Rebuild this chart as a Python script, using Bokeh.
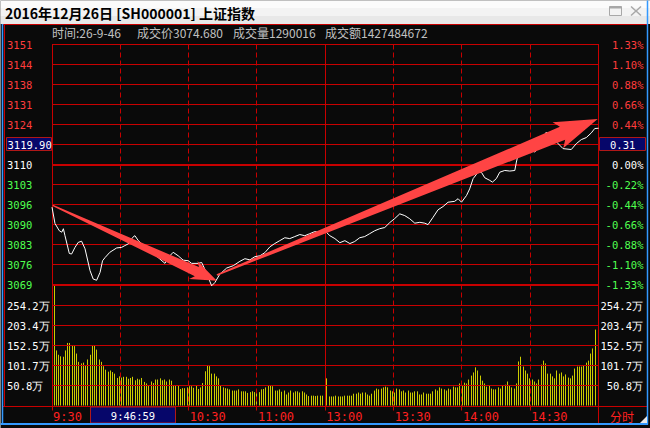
import math
from bokeh.plotting import figure
from bokeh.models import Range1d
from bokeh.core.properties import value
from bokeh.embed import file_html
from bokeh.resources import INLINE

# ----------------------------- data -----------------------------
TITLE = "2016年12月26日 [SH000001] 上证指数"
INFO_TEXTS = ["时间:26-9-46", "成交价3074.680", "成交量1290016", "成交额1427484672"]

PRE_CLOSE = 3110.15
MAX_PCT = 0.01325

PRICE_STEPS = [6, 5, 4, 3, 2, 0, -1, -2, -3, -4, -5, -6]
PRICE_LABELS = ["3151", "3144", "3138", "3131", "3124", "3110",
                "3103", "3096", "3090", "3083", "3076", "3069"]
PCT_LABELS = ["1.33%", "1.10%", "0.88%", "0.66%", "0.44%", "0.00%",
              "-0.22%", "-0.44%", "-0.66%", "-0.88%", "-1.10%", "-1.33%"]

CURSOR_STEP = 1
CURSOR_PRICE_LABEL = "3119.90"
CURSOR_PCT_LABEL = "0.31"
CURSOR_TIME_LABEL = "9:46:59"

VOL_MAX = 305.04
VOL_STEPS = [5, 4, 3, 2, 1]
VOL_LABELS = ["254.2万", "203.4万", "152.5万", "101.7万", "50.8万"]

TIME_DASHED = [30, 60, 90, 150, 180, 210]
TIME_SOLID = [120]
TIME_TICKS = [0, 30, 60, 90, 120, 150, 180, 210]
TIME_LABEL_MIN = [0, 60, 90, 120, 150, 180, 210]
TIME_LABELS = ["9:30", "10:30", "11:00", "13:00", "13:30", "14:00", "14:30"]
PERIOD_LABEL = "分时"

# minutes after 9:30 (trading minutes) and index price
PRICE_T = [0, 1.3, 3.2, 4.3, 5.0, 5.7, 7.6, 8.6, 10.1, 11.5,
           13.0, 14.5, 16.7, 18.1, 19.6, 21.1, 22.2, 23.3, 25.4, 28.4,
           30.6, 32.0, 33.5, 35.4, 36.4, 37.9, 40.8, 43.9, 46.6, 49.6,
           51.0, 53.2, 55.4, 57.6, 59.8, 61.3, 64.2, 65.7, 67.1, 70.1,
           71.5, 73.7, 76.7, 79.6, 82.5, 84.7, 86.9, 89.1, 91.3, 93.5,
           95.7, 97.8, 100.0, 102.2, 104.4, 106.6, 108.8, 111.0, 113.2, 115.4,
           117.6, 119.8, 122.0, 124.2, 126.4, 128.6, 130.8, 132.9, 135.1, 137.3,
           139.5, 141.7, 143.9, 146.1, 148.3, 150.5, 152.7, 154.9, 157.1, 159.3,
           161.5, 163.7, 165.1, 167.3, 169.5, 171.7, 173.9, 176.8, 178.3, 179.8,
           182.0, 183.4, 184.9, 187.1, 188.6, 190.0, 192.2, 193.4, 195.1, 196.6,
           198.8, 201.0, 203.2, 203.9, 204.6, 206.1, 207.5, 209.0, 210.5, 211.9,
           213.4, 215.6, 217.1, 218.5, 221.5, 224.4, 228.0, 230.2, 232.4, 234.6,
           236.8, 238.3, 240.0]
PRICE = [3095.5, 3089.9, 3087.4, 3086.9, 3088.1, 3085.7, 3079.6, 3079.4, 3081.7, 3083.4,
         3083.8, 3081.2, 3073.7, 3070.8, 3070.4, 3073.1, 3077.1, 3078.2, 3080.0, 3081.5,
         3081.7, 3082.3, 3082.9, 3085.1, 3085.7, 3084.0, 3081.9, 3079.9, 3078.2, 3076.2,
         3078.2, 3080.0, 3078.8, 3077.3, 3077.1, 3076.2, 3076.2, 3076.5, 3074.2, 3068.5,
         3069.6, 3072.5, 3074.6, 3075.4, 3076.9, 3077.8, 3077.4, 3078.5, 3078.8, 3079.9,
         3081.9, 3083.0, 3084.0, 3085.0, 3084.7, 3085.4, 3086.1, 3085.7, 3086.4, 3087.1,
         3086.8, 3087.4, 3085.7, 3084.7, 3083.3, 3084.0, 3083.0, 3083.7, 3085.0, 3085.4,
         3086.4, 3087.4, 3088.1, 3088.5, 3090.2, 3091.6, 3093.2, 3092.6, 3091.5, 3090.0,
         3090.3, 3090.0, 3089.5, 3092.0, 3094.6, 3095.7, 3097.2, 3097.5, 3098.4, 3097.2,
         3099.5, 3101.8, 3105.3, 3107.5, 3107.4, 3105.6, 3104.7, 3104.1, 3105.3, 3107.5,
         3108.1, 3107.9, 3108.1, 3111.0, 3113.3, 3116.2, 3117.3, 3116.8, 3115.3, 3114.4,
         3115.6, 3119.6, 3121.3, 3120.2, 3117.9, 3115.6, 3115.3, 3117.3, 3118.7, 3119.4,
         3121.0, 3122.5, 3122.6]

# per-minute volume, 万 (morning 9:31-11:30, afternoon 13:01-15:00)
VOL_AM = [305, 140, 129, 125, 124, 140, 159, 159, 152, 151,
          132, 111, 107, 109, 102, 117, 129, 153, 153, 142,
          117, 111, 100, 91, 86, 89, 85, 81, 70, 74,
          71, 73, 73, 68, 70, 73, 64, 68, 66, 70,
          60, 56, 51, 61, 57, 66, 66, 69, 64, 66,
          61, 66, 63, 50, 51, 51, 42, 44, 44, 46,
          49, 49, 45, 51, 42, 46, 57, 87, 102, 100,
          81, 81, 74, 69, 51, 46, 44, 43, 41, 38,
          38, 38, 41, 36, 36, 36, 32, 34, 36, 34,
          36, 34, 41, 42, 46, 51, 50, 49, 38, 38,
          41, 35, 38, 28, 33, 38, 33, 36, 36, 33,
          36, 33, 28, 24, 25, 25, 24, 25, 25, 25]
VOL_PM = [69, 23, 23, 23, 25, 23, 23, 23, 25, 25,
          25, 25, 30, 30, 33, 30, 33, 33, 28, 25,
          30, 38, 43, 41, 43, 46, 48, 46, 38, 36,
          33, 43, 41, 36, 38, 33, 38, 33, 33, 36,
          36, 28, 28, 33, 30, 30, 30, 36, 41, 38,
          46, 43, 41, 38, 43, 41, 48, 46, 46, 56,
          51, 58, 56, 66, 76, 84, 97, 89, 76, 63,
          56, 48, 51, 43, 41, 41, 46, 43, 51, 53,
          61, 51, 46, 43, 56, 112, 124, 99, 89, 81,
          69, 66, 61, 56, 66, 104, 114, 107, 81, 81,
          74, 69, 89, 81, 84, 74, 79, 71, 69, 76,
          94, 99, 99, 99, 102, 109, 114, 132, 145, 193]

# hand-drawn trend arrows (minute, price) : open -> low, low -> close
ARROW_T0 = [0.3, 72.4]
ARROW_P0 = [3096.1, 3072.2]
ARROW_T1 = [72.4, 239.6]
ARROW_P1 = [3070.2, 3125.8]

# ----------------------------- layout -----------------------------
W, H = 650, 428
X0, PXM = 52.0, 546.6 / 240  # screen x of 9:30, pixels per minute
YC = 164.5                   # screen y of previous close
PPY = 120.0 / (PRE_CLOSE * MAX_PCT)
V0 = 405.5                   # screen y of zero volume
VPY = 120.0 / VOL_MAX
STEP_PTS = PRE_CLOSE * MAX_PCT / 6
VOL_STEP = VOL_MAX / 6
AM_START, PM_START, SLOT = 0.9, 120.7, 0.99
SHIFT = 0.5                  # pixel-grid alignment of the frame

BG = "#0a0a0a"
RED = "#c80000"
LBL_RED = "#ff3c3c"
LBL_GRN = "#50ff50"
AX_RED = "#ff2020"
WHITE = "#ffffff"
GRAY = "#c0c0c0"
YEL = "#cccc00"
NAVY = "#06066a"
BLUE = "#3399ff"
ARROW = "#ff4444"
MONO = value("DejaVu Sans Mono")
CJK = value("Noto Sans CJK SC")


def sx(t):
    return X0 + t * PXM


def tx(s):
    return (s - X0) / PXM


def sp(pr):
    return YC - (pr - PRE_CLOSE) * PPY


def py(s):
    return PRE_CLOSE + (YC - s) / PPY


def vy(s):
    return (V0 - s) / VPY


p = figure(width=W, height=H,
           x_range=Range1d(tx(SHIFT), tx(W + SHIFT)),
           y_range=Range1d(py(H + SHIFT), py(SHIFT)),
           output_backend="svg", toolbar_location=None,
           x_axis_location=None, y_axis_location=None,
           min_border=0, background_fill_color=BG, border_fill_color=BG,
           outline_line_color=None)
p.extra_y_ranges = {"vol": Range1d(vy(H + SHIFT), vy(SHIFT))}
p.grid.visible = False


def seg(xs0, ys0, xs1, ys1, **kw):
    p.segment(x0=[tx(v) for v in xs0], y0=[py(v) for v in ys0],
              x1=[tx(v) for v in xs1], y1=[py(v) for v in ys1], **kw)


def box(l, r, t, b, **kw):
    p.quad(left=[tx(l)], right=[tx(r)], top=[py(t)], bottom=[py(b)], **kw)


def col(t):
    return math.floor(sx(t)) + 0.5


# ---- window title bar ----
box(0, W + 1, 0, 8, fill_color="#fbfbfb", line_color=None)
box(0, W + 1, 8, 16, fill_color="#f3f3f3", line_color=None)
box(0, W + 1, 16, 24, fill_color="#e8e8e8", line_color=None)
p.text(x=[tx(5)], y=[py(12.5)], text=[TITLE], text_color="#000000",
       text_font=CJK, text_font_size="14px", text_font_style="bold",
       text_align="left", text_baseline="middle")
box(609.5, 621.5, 6.5, 15.5, fill_color=None, line_color="#a8a8a8", line_width=1)
seg([609.5], [7.5], [621.5], [7.5], line_color="#a8a8a8", line_width=2)
seg([631, 631], [6.5, 15.5], [641, 641], [15.5, 6.5], line_color="#a8a8a8", line_width=1.5)
seg([3], [24.5], [647], [24.5], line_color=RED, line_width=1)

# ---- info line ----
p.text(x=[tx(v) for v in [52, 137, 233, 325]], y=[py(32)] * 4, text=INFO_TEXTS,
       text_color=GRAY, text_font=CJK, text_font_size="12px",
       text_align="left", text_baseline="middle")

# ---- volume bars ----
bar_t = [AM_START + SLOT * i for i in range(len(VOL_AM))] + \
        [PM_START + SLOT * j for j in range(len(VOL_PM))]
bar_x = [tx(math.floor(sx(t)) + 0.5) for t in bar_t]
vols = VOL_AM + VOL_PM
p.segment(x0=bar_x, y0=[0] * len(vols), x1=bar_x, y1=vols, y_range_name="vol",
          line_color=YEL, line_width=1)

# ---- grid ----
x_left, x_right = tx(52), tx(599)
gy = [PRE_CLOSE + k * STEP_PTS for k in range(6, -7, -1)]
p.segment(x0=[x_left] * len(gy), y0=gy, x1=[x_right] * len(gy), y1=gy,
          line_color=RED, line_width=1)
thick = [PRE_CLOSE, PRE_CLOSE - 6 * STEP_PTS]
p.segment(x0=[x_left] * 2, y0=[py(sp(v) + 1) for v in thick],
          x1=[x_right] * 2, y1=[py(sp(v) + 1) for v in thick],
          line_color=RED, line_width=1)
vg = [k * VOL_STEP for k in VOL_STEPS]
p.segment(x0=[x_left] * len(vg), y0=vg, x1=[x_right] * len(vg), y1=vg,
          y_range_name="vol", line_color=RED, line_width=1)
seg([3], [406.5], [647], [406.5], line_color=RED, line_width=1)
seg([4.5], [24.5], [4.5], [406.5], line_color=RED, line_width=1)
seg([52.5], [44.5], [52.5], [406.5], line_color=RED, line_width=1)
seg([598.5], [44.5], [598.5], [424], line_color=RED, line_width=1)
seg([col(t) for t in TIME_DASHED], [44.5] * len(TIME_DASHED),
    [col(t) for t in TIME_DASHED], [406] * len(TIME_DASHED),
    line_color=RED, line_width=1, line_dash="5 3")
seg([col(t) for t in TIME_SOLID], [44.5], [col(t) for t in TIME_SOLID], [406],
    line_color=RED, line_width=1)
seg([col(t) for t in TIME_TICKS], [406.5] * len(TIME_TICKS),
    [col(t) for t in TIME_TICKS], [410.5] * len(TIME_TICKS),
    line_color=RED, line_width=1)

# ---- price line ----
p.line(PRICE_T, PRICE, line_color=WHITE, line_width=1)


# ---- arrows ----
def arrow_xy(t0, p0, t1, p1, w_tail, w_base, head_len, head_w, sweep):
    x0, y0 = sx(t0), sp(p0)
    x1, y1 = sx(t1), sp(p1)
    dx, dy = x1 - x0, y1 - y0
    L = math.hypot(dx, dy)
    ux, uy = dx / L, dy / L
    nx, ny = -uy, ux
    bx, by = x1 - ux * head_len, y1 - uy * head_len
    pts = [(x0 + nx * w_tail, y0 + ny * w_tail),
           (bx + nx * w_base, by + ny * w_base),
           (bx - ux * sweep + nx * head_w, by - uy * sweep + ny * head_w),
           (x1, y1),
           (bx - ux * sweep - nx * head_w, by - uy * sweep - ny * head_w),
           (bx - nx * w_base, by - ny * w_base),
           (x0 - nx * w_tail, y0 - ny * w_tail)]
    return [tx(a) for a, b in pts], [py(b) for a, b in pts]


ARROW_STYLE = [(0.6, 5.0, 22, 10, 4), (0.8, 7.0, 38, 14, 5)]
for i in range(len(ARROW_T0)):
    xs, ys = arrow_xy(ARROW_T0[i], ARROW_P0[i], ARROW_T1[i], ARROW_P1[i], *ARROW_STYLE[i])
    p.patch(xs, ys, fill_color=ARROW, line_color=None)

# ---- price / percent labels ----
lab_y = [PRE_CLOSE + k * STEP_PTS for k in PRICE_STEPS]
lab_c = [LBL_RED if k > 0 else (WHITE if k == 0 else LBL_GRN) for k in PRICE_STEPS]
p.text(x=[tx(7)] * len(lab_y), y=lab_y, text=PRICE_LABELS, text_color=lab_c,
       text_font=MONO, text_font_size="10.5px", text_align="left", text_baseline="middle")
p.text(x=[tx(643.5)] * len(lab_y), y=lab_y, text=PCT_LABELS, text_color=lab_c,
       text_font=MONO, text_font_size="10.5px", text_align="right", text_baseline="middle")

# ---- cursor boxes ----
cy = sp(PRE_CLOSE + CURSOR_STEP * STEP_PTS)
box(6.5, 51.5, cy - 7, cy + 6, fill_color=NAVY, line_color="#b01818", line_width=1)
box(599.5, 645.5, cy - 7, cy + 6, fill_color=NAVY, line_color="#b01818", line_width=1)
p.text(x=[tx(7.5), tx(610)], y=[py(cy)] * 2, text=[CURSOR_PRICE_LABEL, CURSOR_PCT_LABEL],
       text_color=WHITE, text_font=MONO, text_font_size="10.5px",
       text_align="left", text_baseline="middle")
box(90.5, 175.5, 407, 423, fill_color=NAVY, line_color="#b01818", line_width=1)
p.text(x=[tx(133)], y=[py(415.5)], text=[CURSOR_TIME_LABEL], text_color=WHITE,
       text_font=MONO, text_font_size="10.5px", text_align="center", text_baseline="middle")

# ---- volume labels ----
vl_y = [k * VOL_STEP for k in VOL_STEPS]
p.text(x=[tx(7)] * len(vl_y), y=vl_y, text=VOL_LABELS, y_range_name="vol",
       text_color=WHITE, text_font=MONO, text_font_size="10.5px",
       text_align="left", text_baseline="middle")
p.text(x=[tx(643)] * len(vl_y), y=vl_y, text=VOL_LABELS, y_range_name="vol",
       text_color=WHITE, text_font=MONO, text_font_size="10.5px",
       text_align="right", text_baseline="middle")

# ---- time labels ----
p.text(x=[tx(sx(t) + 1) for t in TIME_LABEL_MIN], y=[py(416.5)] * len(TIME_LABEL_MIN),
       text=TIME_LABELS, text_color=AX_RED, text_font=MONO, text_font_size="12px",
       text_align="left", text_baseline="middle")
p.text(x=[tx(610)], y=[py(416.5)], text=[PERIOD_LABEL], text_color=AX_RED,
       text_font=CJK, text_font_size="12px", text_align="left", text_baseline="middle")

# ---- window border ----
seg([647.5], [0], [647.5], [424.5], line_color=BLUE, line_width=1.5)
seg([2.5], [24], [2.5], [424.5], line_color=BLUE, line_width=1.5)
seg([0], [424], [648], [424], line_color=BLUE, line_width=2)
p.patch([tx(640), tx(647), tx(647)], [py(423), py(423), py(416)],
        fill_color="#e8e8e8", line_color=None)

open("out.html", "w").write(file_html(p, INLINE))
